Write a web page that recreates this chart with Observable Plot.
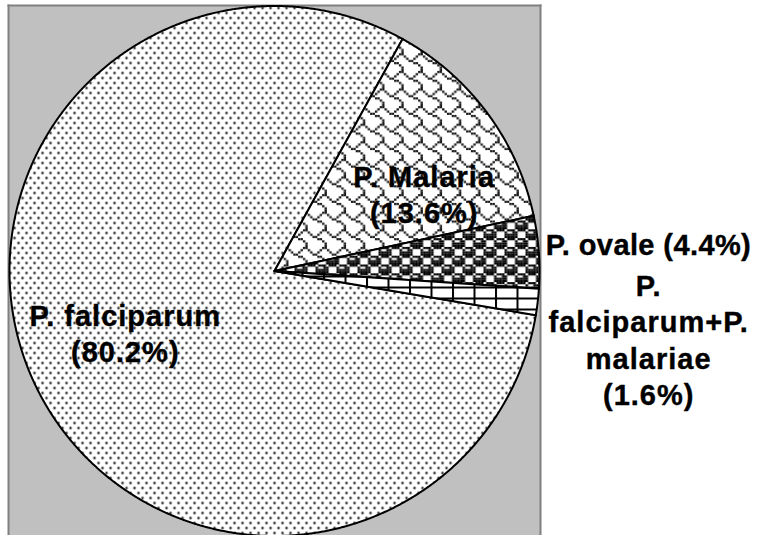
<!DOCTYPE html>
<html>
<head>
<meta charset="utf-8">
<script src="https://cdn.jsdelivr.net/npm/d3@7"></script>
<script src="https://cdn.jsdelivr.net/npm/@observablehq/plot@0.6"></script>
<style>
  html, body { margin: 0; padding: 0; background: #fff; }
  #chart svg text { letter-spacing: 1px; }
  #chart svg g.tight text { letter-spacing: 0.4px; }
</style>
</head>
<body>
<div id="chart"></div>
<script>
// ---- data ----
const categories = ["P. falciparum", "P. Malaria", "P. ovale", "P. falciparum+P. malariae"];
const percents = [80.2, 13.6, 4.4, 1.6];
const labelLines = [
  ["P. falciparum", "(80.2%)"],
  ["P. Malaria", "(13.6%)"],
  ["P. ovale (4.4%)"],
  ["P.", "falciparum+P.", "malariae", "(1.6%)"]
];
const patternIds = ["pat-dots", "pat-shingle", "pat-sphere", "pat-grid"];

// ---- layout / style ----
const startAngle = 99.6 * Math.PI / 180;
const labelLayout = [
  {k: 0.6, dx: -6, dy: -8, anchor: "middle", cls: null},
  {k: 0.6, dx: 22, dy: 17, anchor: "middle", cls: null},
  {k: 1.0, dx: 7, dy: -9, anchor: "start", cls: "tight"},
  {k: 1.0, dx: 111, dy: 37, anchor: "middle", cls: null}
];

const arcs = d3.pie().sort(null).value(d => d)
  .startAngle(startAngle).endAngle(startAngle + 2 * Math.PI)(percents);

const polygons = arcs.map((a, i) => {
  const pts = [{x: 0, y: 0, cat: categories[i]}];
  const n = Math.max(4, Math.ceil((a.endAngle - a.startAngle) / (Math.PI / 720)));
  for (let j = 0; j <= n; j++) {
    const t = a.startAngle + (a.endAngle - a.startAngle) * j / n;
    pts.push({x: Math.sin(t), y: Math.cos(t), cat: categories[i]});
  }
  pts.push({x: 0, y: 0, cat: categories[i]});
  return pts;
});

const labelMarks = arcs.map((a, i) => {
  const mid = (a.startAngle + a.endAngle) / 2;
  const L = labelLayout[i];
  return Plot.text([{x: L.k * Math.sin(mid), y: L.k * Math.cos(mid), t: labelLines[i].join("\n")}], {
    x: "x", y: "y", text: "t",
    dx: L.dx, dy: L.dy, textAnchor: L.anchor,
    fontFamily: "Liberation Sans, Arial, sans-serif",
    fontWeight: "bold", fontSize: 29, lineHeight: 1.26,
    fill: "#000", stroke: "#000", strokeWidth: 0.4,
    className: L.cls || undefined
  });
});

const W = 758, H = 535;
const R = 265;
const chart = Plot.plot({
  width: W, height: H,
  marginLeft: 8, marginTop: 5, marginRight: W - 540, marginBottom: 0,
  x: {domain: [-266 / R, 266 / R], axis: null},
  y: {domain: [-264.5 / R, 265.5 / R], axis: null},
  style: {background: "#fff"},
  marks: [
    Plot.frame({fill: "#c0c0c0", stroke: null}),
    Plot.frame({anchor: "top", stroke: "#808080", strokeWidth: 2}),
    Plot.frame({anchor: "left", stroke: "#808080", strokeWidth: 2}),
    Plot.frame({anchor: "right", stroke: "#808080", strokeWidth: 2}),
    ...polygons.map((pts, i) => Plot.line(pts, {
      x: "x", y: "y", fill: `url(#${patternIds[i]})`,
      stroke: "#000", strokeWidth: 2, strokeLinejoin: "miter", strokeMiterlimit: 10
    })),
    ...labelMarks
  ]
});

// ---- patterns ----
function bitmapPattern(id, rows, sx, sy, color) {
  let rects = "";
  rows.forEach((r, y) => {
    for (let x = 0; x < 8; x++) {
      if (r & (0x80 >> x)) rects += `<rect x="${x * sx}" y="${y * sy}" width="${sx}" height="${sy}" fill="${color}"/>`;
    }
  });
  return `<pattern id="${id}" patternUnits="userSpaceOnUse" width="${8 * sx}" height="${8 * sy}">
    <rect width="${8 * sx}" height="${8 * sy}" fill="#fff"/>${rects}</pattern>`;
}
const defs = `
  <pattern id="pat-dots" patternUnits="userSpaceOnUse" width="8" height="10">
    <rect width="8" height="10" fill="#fff"/>
    <circle cx="2" cy="2.5" r="1.25" fill="#1a1a1a"/>
    <circle cx="6" cy="7.5" r="1.25" fill="#1a1a1a"/>
  </pattern>
  ${bitmapPattern("pat-shingle", [0x03, 0x84, 0x48, 0x30, 0x0c, 0x02, 0x01, 0x01], 2.4, 2.2, "#1a1a1a")}
  ${bitmapPattern("pat-sphere", [0x77, 0x98, 0xf8, 0xf8, 0x77, 0x89, 0x8f, 0x8f], 2.625, 2.2, "#000")}
  <pattern id="pat-grid" patternUnits="userSpaceOnUse" width="21.5" height="11">
    <rect width="21.5" height="11" fill="#fff"/>
    <rect x="0" y="0" width="21.5" height="2" fill="#000"/>
    <rect x="0" y="0" width="2" height="11" fill="#000"/>
  </pattern>`;
d3.select(chart).insert("defs", ":first-child").html(defs);

document.getElementById("chart").appendChild(chart);
</script>
</body>
</html>
